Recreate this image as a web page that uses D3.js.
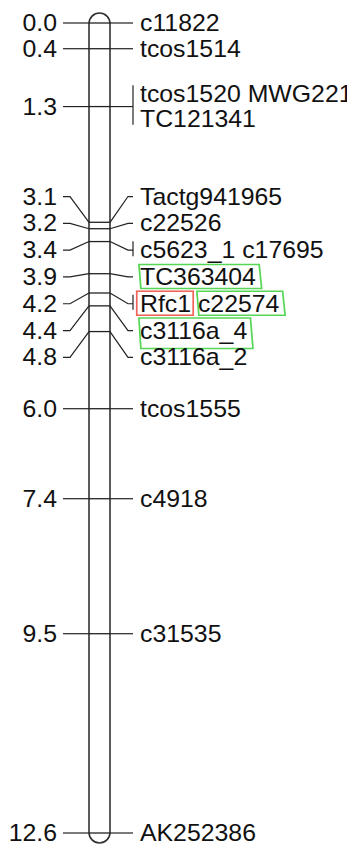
<!DOCTYPE html>
<html>
<head>
<meta charset="utf-8">
<script src="https://cdn.jsdelivr.net/npm/d3@7"></script>
<style>
  body { margin: 0; background: #fff; }
  text { font-family: "Liberation Sans", Arial, sans-serif; font-size: 23px; fill: #111; }
</style>
</head>
<body>
<script>
// linkage map positions (cM) and the markers at each position
const positions = [0.0, 0.4, 1.3, 3.1, 3.2, 3.4, 3.9, 4.2, 4.4, 4.8, 6.0, 7.4, 9.5, 12.6];
const markerNames = [
  ['c11822'],
  ['tcos1514'],
  ['tcos1520', 'MWG221', 'TC121341'],
  ['Tactg941965'],
  ['c22526'],
  ['c5623_1', 'c17695'],
  ['TC363404'],
  ['Rfc1', 'c22574'],
  ['c3116a_4'],
  ['c3116a_2'],
  ['tcos1555'],
  ['c4918'],
  ['c31535'],
  ['AK252386']
];
const greenMarkers = ['TC363404', 'c22574', 'c3116a_4'];
const redMarkers = ['Rfc1'];

const W = 347, H = 844;
const SX = 1.08;          // text looks a bit wide in the picture
const SPACING = 26.8;     // label spacing
const LINE_GAP = 24.5;    // second line of a multi marker label
const chromL = 89, chromR = 110;

const svg = d3.select('body').append('svg')
  .attr('width', W)
  .attr('height', H);

const y = d3.scaleLinear()
  .domain([0, d3.max(positions)])
  .range([23, 833]);

const loci = positions.map((p, i) => {
  const names = markerNames[i];
  const lines = d3.range(0, names.length, 2).map(j => names.slice(j, j + 2));
  return { pos: p, my: y(p), names, lines, h: SPACING + LINE_GAP * (lines.length - 1) };
});

// spread labels that collide, clusters centred on their marker range
let clusters = loci.map(l => ({ items: [l], center: l.my }));
const extent = c => {
  const tot = d3.sum(c.items, d => d.h);
  return [c.center - tot / 2, c.center + tot / 2];
};
let changed = true;
while (changed) {
  changed = false;
  for (let i = 0; i < clusters.length - 1; i++) {
    const a = clusters[i], b = clusters[i + 1];
    if (extent(b)[0] - extent(a)[1] < -2.8) {
      const items = a.items.concat(b.items);
      clusters.splice(i, 2, { items, center: (items[0].my + items[items.length - 1].my) / 2 });
      changed = true;
      break;
    }
  }
}
clusters.forEach(c => {
  let top = extent(c)[0];
  c.items.forEach(d => { d.ly = top + d.h / 2; top += d.h; });
});

// chromosome
svg.append('rect')
  .attr('x', chromL)
  .attr('y', y(0) - 10)
  .attr('width', chromR - chromL)
  .attr('height', y(d3.max(positions)) - y(0) + 20)
  .attr('rx', 10.5)
  .style('fill', 'none')
  .style('stroke', '#333')
  .style('stroke-width', 1.6);

// marker lines across the chromosome
svg.selectAll('line.mark')
  .data(loci)
  .join('line')
  .attr('class', 'mark')
  .attr('x1', chromL).attr('x2', chromR)
  .attr('y1', d => d.my).attr('y2', d => d.my)
  .style('stroke', '#222')
  .style('stroke-width', 1.3);

// left connectors
svg.selectAll('path.left')
  .data(loci)
  .join('path')
  .attr('class', 'left')
  .attr('d', d => `M63,${d.ly}L70,${d.ly}L${chromL},${d.my}`)
  .style('fill', 'none')
  .style('stroke', '#222')
  .style('stroke-width', 1.2);

// right connectors
svg.selectAll('path.right')
  .data(loci)
  .join('path')
  .attr('class', 'right')
  .attr('d', d => `M${chromR},${d.my}L128,${d.ly}L133,${d.ly}`)
  .style('fill', 'none')
  .style('stroke', '#222')
  .style('stroke-width', 1.2);

// brackets for loci with several markers
svg.selectAll('line.bracket')
  .data(loci.filter(d => d.names.length > 1))
  .join('line')
  .attr('class', 'bracket')
  .attr('x1', 133).attr('x2', 133)
  .attr('y1', d => d.ly - (d.lines.length - 1) * LINE_GAP / 2 - 9)
  .attr('y2', d => d.ly + (d.lines.length - 1) * LINE_GAP / 2 + 6)
  .style('stroke', '#222')
  .style('stroke-width', 1.2);

// position labels
loci.forEach(d => {
  svg.append('g')
    .attr('transform', `translate(57,${d.ly}) scale(${SX},1)`)
    .append('text')
    .attr('y', 8)
    .style('text-anchor', 'end')
    .text(d3.format('.1f')(d.pos));
});

// marker labels
loci.forEach(d => {
  d.lines.forEach((line, k) => {
    const lineY = d.ly - (d.lines.length - 1) * LINE_GAP / 2 + k * LINE_GAP;
    const g = svg.append('g')
      .attr('transform', `translate(140,${lineY}) scale(${SX},1)`);
    let cursor = 0;
    const space = 6.4;
    line.forEach(name => {
      const t = g.append('text')
        .attr('x', cursor)
        .attr('y', 8)
        .text(name);
      const len = t.node().getComputedTextLength();
      const base = 8;
      const top = base - 20.5;
      const bottom = base + (name.includes('_') ? 10 : 3.5);
      if (greenMarkers.includes(name)) {
        const x0 = cursor - 1, x1 = cursor + len + 3;
        g.append('polygon')
          .attr('points', [[x0, top], [x1, top], [x1 + 2.3, bottom], [x0 + 1.8, bottom]].join(' '))
          .style('fill', 'none')
          .style('stroke', '#55d655')
          .style('stroke-width', 1.6);
      }
      if (redMarkers.includes(name)) {
        g.append('rect')
          .attr('x', cursor - 3)
          .attr('y', top)
          .attr('width', len + 5)
          .attr('height', bottom - top)
          .style('fill', 'none')
          .style('stroke', '#f0645a')
          .style('stroke-width', 1.6);
      }
      cursor += len + space;
    });
  });
});
</script>
</body>
</html>
